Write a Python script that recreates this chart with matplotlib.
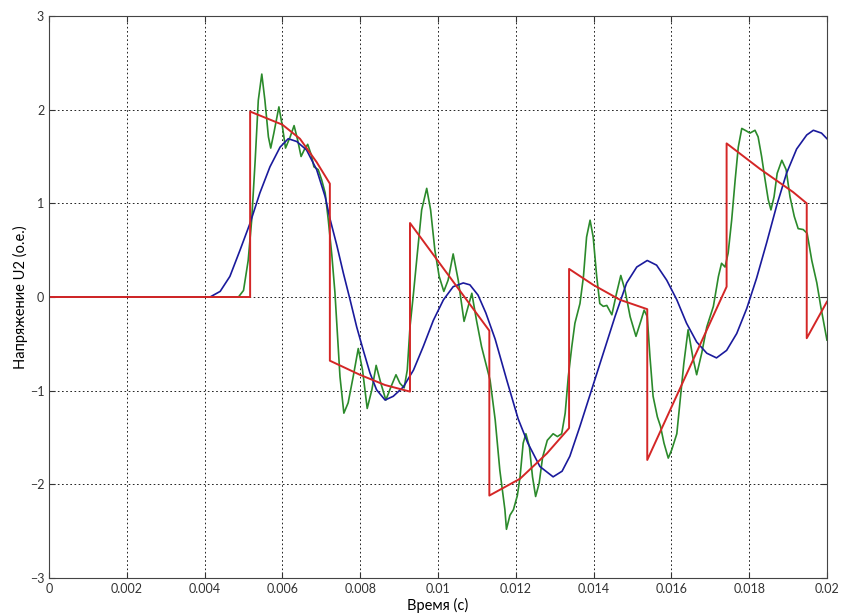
import matplotlib.pyplot as plt
from matplotlib.ticker import FixedLocator

plt.rcParams['font.family'] = ['Lato', 'DejaVu Sans']

# red curve (piecewise)
red_t = [0, 0.00517, 0.00517, 0.00600, 0.00645, 0.00688, 0.00722,
         0.00722, 0.00799, 0.00864, 0.00928,
         0.00928, 0.01132,
         0.01132, 0.01211, 0.01280, 0.01337,
         0.01337, 0.01399, 0.01468, 0.01538,
         0.01538, 0.01742,
         0.01742, 0.01827, 0.01913, 0.01948,
         0.01948, 0.02000]
red_v = [0, 0, 1.98, 1.84, 1.69, 1.44, 1.21,
         -0.68, -0.83, -0.94, -1.01,
         0.79, -0.36,
         -2.12, -1.94, -1.67, -1.40,
         0.30, 0.13, -0.03, -0.13,
         -1.74, 0.11,
         1.64, 1.37, 1.12, 1.00,
         -0.44, -0.05]

# green curve (oscillating)
green_t = [0, 0.00487, 0.00500, 0.00512, 0.00521, 0.00530, 0.00538, 0.00547,
           0.00555, 0.00564, 0.00570, 0.00578, 0.00591, 0.00600, 0.00608,
           0.00620, 0.00630, 0.00639, 0.00648, 0.00656, 0.00665, 0.00674,
           0.00681, 0.00692, 0.00701, 0.00710, 0.00718, 0.00727, 0.00735,
           0.00740, 0.00748, 0.00758, 0.00769, 0.00782, 0.00795, 0.00806,
           0.00818, 0.00830, 0.00841, 0.00853, 0.00866, 0.00879, 0.00892,
           0.00902, 0.00913, 0.00921, 0.00928, 0.00937, 0.00947, 0.00958,
           0.00971, 0.00981, 0.00992, 0.01003, 0.01015, 0.01026, 0.01039,
           0.01052, 0.01067, 0.01087, 0.01099, 0.01112, 0.01125, 0.01134,
           0.01147, 0.01159, 0.01172, 0.01176, 0.01185, 0.01194, 0.01204,
           0.01211, 0.01219, 0.01226, 0.01235, 0.01243, 0.01251, 0.01260,
           0.01269, 0.01281, 0.01296, 0.01307, 0.01318, 0.01327, 0.01335,
           0.01344, 0.01352, 0.01365, 0.01374, 0.01382, 0.01391, 0.01399,
           0.01408, 0.01416, 0.01425, 0.01434, 0.01447, 0.01459, 0.01470,
           0.01481, 0.01494, 0.01509, 0.01522, 0.01530, 0.01538, 0.01545,
           0.01553, 0.01564, 0.01572, 0.01581, 0.01592, 0.01601, 0.01614,
           0.01622, 0.01632, 0.01643, 0.01655, 0.01665, 0.01678, 0.01691,
           0.01708, 0.01721, 0.01729, 0.01738, 0.01746, 0.01755, 0.01764,
           0.01772, 0.01781, 0.01794, 0.01802, 0.01815, 0.01823, 0.01832,
           0.01841, 0.01849, 0.01856, 0.01864, 0.01872, 0.01884, 0.01895,
           0.01905, 0.01916, 0.01926, 0.01939, 0.01949, 0.01961, 0.01974,
           0.01984, 0.01992, 0.02000]
green_v = [0, 0, 0.07, 0.39, 0.82, 1.46, 2.10, 2.38,
           2.10, 1.71, 1.59, 1.75, 2.03, 1.82, 1.59,
           1.71, 1.83, 1.68, 1.50, 1.57, 1.63, 1.52,
           1.39, 1.36, 1.25, 1.11, 0.82, 0.45, 0.05,
           -0.30, -0.85, -1.24, -1.13, -0.85, -0.55, -0.78,
           -1.19, -0.99, -0.73, -0.92, -1.10, -0.96, -0.83,
           -0.92, -0.97, -0.78, -0.32, 0.04, 0.47, 0.93,
           1.16, 0.93, 0.50, 0.22, 0.06, 0.18, 0.46,
           0.18, -0.26, 0.04, -0.25, -0.53, -0.74, -0.89,
           -1.31, -1.85, -2.27, -2.48, -2.33, -2.27, -2.12,
           -1.92, -1.56, -1.46, -1.60, -1.92, -2.13, -1.99,
           -1.71, -1.53, -1.46, -1.49, -1.46, -1.24, -0.85,
           -0.53, -0.28, -0.07, 0.22, 0.64, 0.82, 0.64,
           0.22, -0.07, -0.10, -0.09, -0.19, 0.04, 0.23,
           0.07, -0.21, -0.42, -0.25, -0.14, -0.21, -0.64,
           -1.06, -1.28, -1.38, -1.56, -1.72, -1.63, -1.46,
           -1.13, -0.71, -0.35, -0.64, -0.83, -0.60, -0.32,
           -0.10, 0.22, 0.36, 0.32, 0.47, 0.82, 1.25,
           1.60, 1.80, 1.77, 1.75, 1.78, 1.71, 1.50,
           1.25, 1.04, 0.93, 1.07, 1.32, 1.46, 1.36,
           1.07, 0.86, 0.73, 0.72, 0.68, 0.39, 0.15,
           -0.10, -0.28, -0.46]

# blue curve (smooth)
blue_t = [0, 0.00414, 0.00440, 0.00465, 0.00491, 0.00517, 0.00542, 0.00568,
          0.00594, 0.00615, 0.00637, 0.00662, 0.00688, 0.00710, 0.00722,
          0.00740, 0.00757, 0.00774, 0.00791, 0.00808, 0.00825, 0.00842,
          0.00864, 0.00885, 0.00911, 0.00937, 0.00962, 0.00988, 0.01014,
          0.01039, 0.01065, 0.01082, 0.01103, 0.01123, 0.01147, 0.01177,
          0.01206, 0.01231, 0.01262, 0.01296, 0.01319, 0.01339, 0.01365,
          0.01395, 0.01425, 0.01455, 0.01485, 0.01511, 0.01538, 0.01562,
          0.01588, 0.01614, 0.01639, 0.01665, 0.01691, 0.01716, 0.01742,
          0.01768, 0.01794, 0.01819, 0.01845, 0.01871, 0.01896, 0.01922,
          0.01948, 0.01965, 0.01986, 0.02000]
blue_v = [0, 0, 0.06, 0.22, 0.50, 0.79, 1.11, 1.39,
          1.60, 1.69, 1.66, 1.57, 1.36, 1.07, 0.84,
          0.55, 0.25, -0.03, -0.32, -0.57, -0.81, -0.99,
          -1.10, -1.06, -0.96, -0.78, -0.53, -0.25, -0.03,
          0.11, 0.15, 0.13, 0.02, -0.17, -0.45, -0.89,
          -1.30, -1.56, -1.81, -1.92, -1.86, -1.70, -1.38,
          -0.99, -0.60, -0.21, 0.15, 0.32, 0.39, 0.34,
          0.18, -0.03, -0.28, -0.48, -0.60, -0.65, -0.57,
          -0.39, -0.12, 0.20, 0.58, 0.98, 1.32, 1.58,
          1.73, 1.78, 1.75, 1.69]

x_ticks = [0, 0.002, 0.004, 0.006, 0.008, 0.01, 0.012, 0.014, 0.016, 0.018, 0.02]
x_labels = ['0', '0.002', '0.004', '0.006', '0.008', '0.01', '0.012', '0.014',
            '0.016', '0.018', '0.02']
y_ticks = [-3, -2, -1, 0, 1, 2, 3]

fig = plt.figure(figsize=(8.41, 6.16), dpi=100)
ax = fig.add_axes([0.0583, 0.0617, 0.925, 0.9123])

ax.plot(green_t, green_v, color='#2b8a2b', lw=1.2)
ax.plot(blue_t, blue_v, color='#1a1a9c', lw=1.2)
ax.plot(red_t, red_v, color='#d42626', lw=1.4)

ax.set_xlim(0, 0.02)
ax.set_ylim(-3, 3)
ax.xaxis.set_major_locator(FixedLocator(x_ticks))
ax.set_xticklabels(x_labels)
ax.set_yticks(y_ticks)
ax.grid(True, color='black', linestyle=(0, (2, 3)), lw=0.6)
ax.tick_params(direction='in', top=True, right=True, labelsize=9,
               colors='#333333', length=4)
for s in ax.spines.values():
    s.set_color('#444444')
    s.set_linewidth(0.8)

ax.set_xlabel('Время (с)', fontsize=10.5, labelpad=2)
ax.set_ylabel('Напряжение U2 (о.е.)', fontsize=10.5, labelpad=1.5)

plt.savefig('out.png', dpi=100)
